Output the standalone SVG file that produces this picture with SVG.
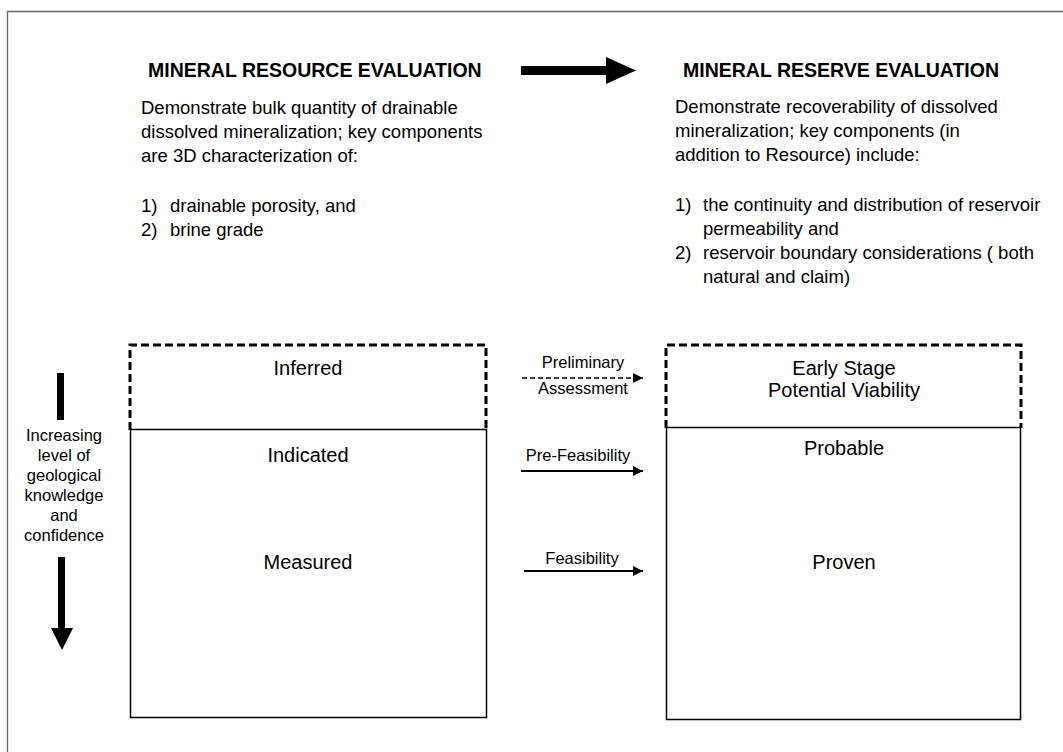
<svg xmlns="http://www.w3.org/2000/svg" width="1063" height="752" viewBox="0 0 1063 752">
<defs>
<style>
text{font-family:"Liberation Sans",Arial,sans-serif;fill:#000}
.h{font-size:19.5px;font-weight:bold}
.b{font-size:18.5px}
.lbl{font-size:20px;text-anchor:middle}
.conn{font-size:16.5px;text-anchor:middle}
.side{font-size:16.5px;text-anchor:middle}
.dash{fill:none;stroke:#000;stroke-width:3;stroke-dasharray:8 4}
.solid{fill:none;stroke:#000;stroke-width:1.5}
</style>
<marker id="ah" viewBox="0 0 10 10" refX="10" refY="5" markerWidth="10" markerHeight="10" markerUnits="userSpaceOnUse" orient="auto">
<path d="M0,0 L10,5 L0,10 Z" fill="#000"/>
</marker>
</defs>
<rect width="1063" height="752" fill="#fff"/>
<path d="M7.5,760 V11.5 H1070" fill="none" stroke="#666" stroke-width="1.3"/>

<g id="resource-heading">
<text class="h" x="148" y="77">MINERAL RESOURCE EVALUATION</text>
<text class="b" x="141" y="114">Demonstrate bulk quantity of drainable</text>
<text class="b" x="141" y="138">dissolved mineralization; key components</text>
<text class="b" x="141" y="162">are 3D characterization of:</text>
<text class="b" x="141" y="212">1)</text><text class="b" x="170" y="212">drainable porosity, and</text>
<text class="b" x="141" y="236">2)</text><text class="b" x="170" y="236">brine grade</text>
</g>

<g id="reserve-heading">
<text class="h" x="683" y="77">MINERAL RESERVE EVALUATION</text>
<text class="b" x="675" y="113">Demonstrate recoverability of dissolved</text>
<text class="b" x="675" y="137">mineralization; key components (in</text>
<text class="b" x="675" y="161">addition to Resource) include:</text>
<text class="b" x="675" y="211">1)</text><text class="b" x="703" y="211">the continuity and distribution of reservoir</text>
<text class="b" x="703" y="235">permeability and</text>
<text class="b" x="675" y="259">2)</text><text class="b" x="703" y="259">reservoir boundary considerations ( both</text>
<text class="b" x="703" y="283">natural and claim)</text>
</g>

<g id="big-arrow">
<path d="M521,66 H606 V57 L636,70.5 L606,84 V75 H521 Z" fill="#000"/>
</g>

<g id="knowledge-axis">
<rect x="57" y="373" width="7" height="47" fill="#000"/>
<path d="M58,557 H65 V628 H73 L62,650 L51,628 H58 Z" fill="#000"/>
<text class="side" x="64" y="441">Increasing</text>
<text class="side" x="64" y="461">level  of</text>
<text class="side" x="64" y="481">geological</text>
<text class="side" x="64" y="501">knowledge</text>
<text class="side" x="64" y="521">and</text>
<text class="side" x="64" y="541">confidence</text>
</g>

<g id="resource-box">
<path class="dash" d="M130,430 V345 H486 V430"/>
<rect class="solid" x="130.5" y="429.5" width="356" height="288"/>
<text class="lbl" x="308" y="375">Inferred</text>
<text class="lbl" x="308" y="462">Indicated</text>
<text class="lbl" x="308" y="569">Measured</text>
</g>

<g id="reserve-box">
<path class="dash" d="M666,428 V345 H1021 V428"/>
<rect class="solid" x="666.5" y="427.5" width="354" height="292"/>
<text class="lbl" x="844" y="375">Early Stage</text>
<text class="lbl" x="844" y="397">Potential Viability</text>
<text class="lbl" x="844" y="455">Probable</text>
<text class="lbl" x="844" y="569">Proven</text>
</g>

<g id="connectors">
<line x1="522" y1="378" x2="643" y2="378" stroke="#000" stroke-width="1.5" stroke-dasharray="5 3" marker-end="url(#ah)"/>
<line x1="521" y1="471" x2="643" y2="471" stroke="#000" stroke-width="2" marker-end="url(#ah)"/>
<line x1="524" y1="571" x2="643" y2="571" stroke="#000" stroke-width="2" marker-end="url(#ah)"/>
<text class="conn" x="583" y="368">Preliminary</text>
<text class="conn" x="583" y="394">Assessment</text>
<text class="conn" x="578" y="461">Pre-Feasibility</text>
<text class="conn" x="582" y="564">Feasibility</text>
</g>
</svg>
